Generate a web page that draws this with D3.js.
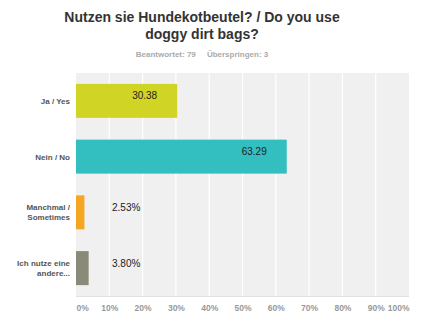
<!DOCTYPE html>
<html><head><meta charset="utf-8">
<script src="https://cdn.jsdelivr.net/npm/d3@7"></script>
<style>body{margin:0;background:#fff;font-family:Arial,"Liberation Sans",sans-serif}</style>
</head><body>
<svg id="c" width="445" height="325"></svg>
<script>
const categories = [["Ja / Yes"], ["Nein / No"], ["Manchmal /", "Sometimes"], ["Ich nutze eine", "andere..."]];
const values = [30.38, 63.29, 2.53, 3.80];
const valueLabels = ["30.38", "63.29", "2.53%", "3.80%"];
const colors = ["#d0d424", "#33bfbf", "#f5a623", "#8a8a78"];
const ticks = [0,10,20,30,40,50,60,70,80,90,100];
const tickLabels = ["0%","10%","20%","30%","40%","50%","60%","70%","80%","90%","100%"];

const svg = d3.select("#c");
const L = 76, R = 409, T = 73, B = 296;
const x = d3.scaleLinear().domain([0,100]).range([L,R]);
const y = d3.scaleBand().domain(d3.range(values.length)).range([T,B]).paddingInner(0.39).paddingOuter(0.195);

svg.append("rect").attr("x",L).attr("y",T).attr("width",R-L).attr("height",B-T).attr("fill","#f0f0f0");
svg.append("g").selectAll("line").data(ticks.slice(1,-1)).join("line")
  .attr("x1",d=>x(d)).attr("x2",d=>x(d)).attr("y1",T).attr("y2",B)
  .attr("stroke","#fff").attr("stroke-width",1.2);
svg.append("line").attr("x1",L).attr("x2",R).attr("y1",B+0.5).attr("y2",B+0.5).attr("stroke","#e2e2e2");

svg.append("g").selectAll("rect").data(values).join("rect")
  .attr("x",x(0)).attr("y",(d,i)=>y(i)).attr("width",d=>x(d)-x(0)).attr("height",y.bandwidth())
  .attr("fill",(d,i)=>colors[i]);

svg.append("g").selectAll("text").data(values).join("text")
  .attr("x",(d,i)=> d>10 ? x(d)-20 : x(0)+36)
  .attr("text-anchor",d=> d>10 ? "end" : "start")
  .attr("y",(d,i)=>y(i)+ (d>10 ? 15 : 16))
  .attr("font-size",10).attr("fill","#222")
  .text((d,i)=>valueLabels[i]);

const cl = svg.append("g");
categories.forEach((lines,i)=>{
  const cy = y(i)+y.bandwidth()/2;
  const t = cl.append("text").attr("text-anchor","end").attr("font-size",8).attr("font-weight","bold").attr("fill","#555");
  lines.forEach((s,j)=>{
    t.append("tspan").attr("x",70).attr("y",cy + 3 + (j-(lines.length-1)/2)*10).text(s);
  });
});

const ax = d3.axisBottom(x).tickValues(ticks).tickSize(0).tickFormat((d,i)=>tickLabels[i]);
const g = svg.append("g").attr("transform",`translate(0,${B+6})`).call(ax);
g.select(".domain").remove();
g.selectAll("text").attr("font-size",8.5).attr("font-weight","bold").attr("fill","#999")
  .attr("font-family","Arial, 'Liberation Sans', sans-serif")
  .attr("text-anchor",(d,i)=> i===0 ? "start" : (i===ticks.length-1 ? "end" : "middle"));

svg.append("text").attr("x",202).attr("y",22).attr("text-anchor","middle").attr("font-size",14).attr("font-weight","bold").attr("fill","#333").text("Nutzen sie Hundekotbeutel? / Do you use");
svg.append("text").attr("x",202).attr("y",39).attr("text-anchor","middle").attr("font-size",14).attr("font-weight","bold").attr("fill","#333").text("doggy dirt bags?");
svg.append("text").attr("x",202).attr("y",57).attr("text-anchor","middle").attr("font-size",8).attr("font-weight","bold").attr("fill","#aaa").attr("xml:space","preserve").text("Beantwortet: 79     Überspringen: 3");
</script>
</body></html>
